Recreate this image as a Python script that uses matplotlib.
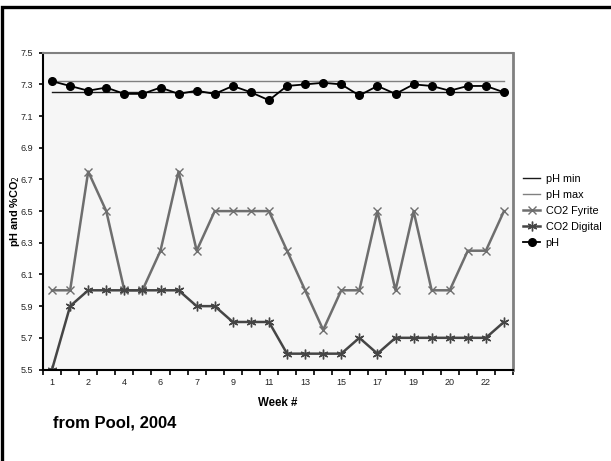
import matplotlib
matplotlib.use("Agg")
import matplotlib.pyplot as plt
from matplotlib.patches import Rectangle
import numpy as np

plt.rcParams['font.family'] = ['Liberation Sans', 'DejaVu Sans']

# Week labels (every other category is labelled on the axis)
week_labels = ["1", "", "2", "", "4", "", "6", "", "7", "", "9", "", "11", "",
               "13", "", "15", "", "17", "", "19", "", "20", "", "22", ""]

ph_min = [7.25] * 26
ph_max = [7.32] * 26
co2_fyrite = [6.0, 6.0, 6.75, 6.5, 6.0, 6.0, 6.25, 6.75, 6.25, 6.5, 6.5, 6.5, 6.5,
              6.25, 6.0, 5.75, 6.0, 6.0, 6.5, 6.0, 6.5, 6.0, 6.0, 6.25, 6.25, 6.5]
co2_digital = [5.5, 5.9, 6.0, 6.0, 6.0, 6.0, 6.0, 6.0, 5.9, 5.9, 5.8, 5.8, 5.8,
               5.6, 5.6, 5.6, 5.6, 5.7, 5.6, 5.7, 5.7, 5.7, 5.7, 5.7, 5.7, 5.8]
ph = [7.32, 7.29, 7.26, 7.28, 7.24, 7.24, 7.28, 7.24, 7.26, 7.24, 7.29, 7.25, 7.20,
      7.29, 7.30, 7.31, 7.30, 7.23, 7.29, 7.24, 7.30, 7.29, 7.26, 7.29, 7.29, 7.25]

W, H = 611, 461
fig = plt.figure(figsize=(W / 100, H / 100), dpi=100)

# outer frame (top and left edges visible)
fig.add_artist(Rectangle((1.5 / W, -0.05), 1.2, 1 - 7.0 / H + 0.05,
                         transform=fig.transFigure, fill=False,
                         edgecolor='black', linewidth=2.4))

ax = fig.add_axes([43 / W, 1 - 369.5 / H, (513 - 43) / W, (369.5 - 52.7) / H])
ax.set_facecolor('#f6f6f6')

x = np.arange(len(ph))
ax.plot(x, ph_min, color='#1a1a1a', lw=1.0, label='pH min')
ax.plot(x, ph_max, color='#808080', lw=1.0, label='pH max')
ax.plot(x, co2_fyrite, color='#6e6e6e', lw=1.8, marker='x', ms=6, mew=1.0,
        label='CO2 Fyrite')
ax.plot(x, co2_digital, color='#454545', lw=1.8, marker=(6, 2, 0), ms=7, mew=1.0,
        label='CO2 Digital')
ax.plot(x, ph, color='black', lw=1.3, marker='o', ms=5.5, label='pH')

ax.set_xlim(-0.5, len(ph) - 0.5)
ax.set_ylim(5.5, 7.5)

ax.set_xticks(x)
ax.set_xticklabels(week_labels)
ax.set_xticks(np.arange(-0.5, len(ph)), minor=True)
ax.tick_params(axis='x', which='major', length=0, pad=6, labelsize=6.5,
               labelcolor='#222222')
ax.tick_params(axis='x', which='minor', length=3.5, width=1.2, direction='out')

yt = np.round(np.arange(5.5, 7.51, 0.2), 1)
ax.set_yticks(yt)
ax.set_yticklabels([f"{v:.1f}" for v in yt])
ax.tick_params(axis='y', length=3, width=1.2, direction='out', labelsize=6.5,
               labelcolor='#222222', pad=4)

for side in ('left', 'bottom'):
    ax.spines[side].set_color('black')
    ax.spines[side].set_linewidth(1.5)
ax.spines['top'].set_color('#808080')
ax.spines['top'].set_linewidth(1.5)
ax.spines['right'].set_color('#808080')
ax.spines['right'].set_linewidth(2.0)

ax.set_xlabel('Week #', fontsize=8.3, fontweight='bold', labelpad=7)
ax.set_ylabel('pH and %CO$_2$', fontsize=7.8, fontweight='bold',
              va='center')
ax.yaxis.set_label_coords((15 - 43) / 470, 0.5)

ax.legend(loc='upper left', bbox_to_anchor=(523 / W, 1 - 174 / H),
          bbox_transform=fig.transFigure, frameon=False, fontsize=7.8,
          handlelength=1.6, handletextpad=0.5, labelspacing=0.55,
          borderaxespad=0, borderpad=0)

fig.text(53 / W, 1 - 423 / H, 'from Pool, 2004', fontsize=12,
         fontweight='bold', va='center', ha='left')

fig.savefig('out.png', dpi=100)
